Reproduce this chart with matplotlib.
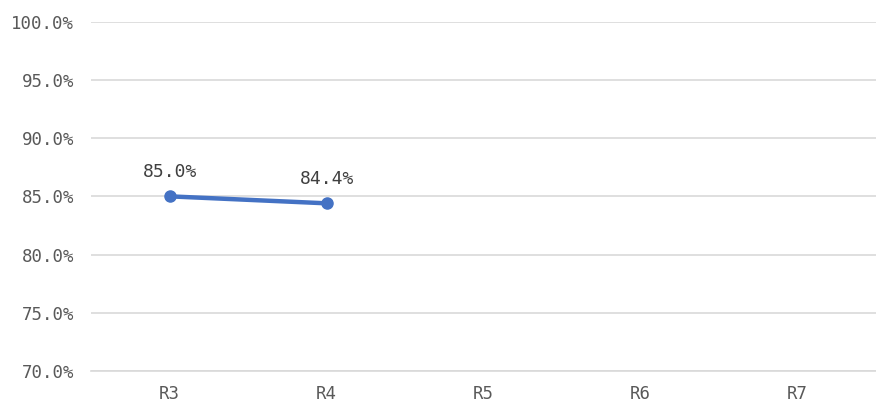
import matplotlib
matplotlib.use("Agg")
from matplotlib import pyplot as plt
from matplotlib.ticker import FuncFormatter

categories = ["R3", "R4", "R5", "R6", "R7"]
rates = [85.0, 84.4]  # only R3 and R4 have values so far
y_ticks = [70, 75, 80, 85, 90, 95, 100]

plt.rcParams["font.family"] = ["DejaVu Sans Mono", "DejaVu Sans"]

fig = plt.figure(figsize=(8.76, 4.04), dpi=100)
ax = fig.add_axes([0.104, 0.082, 0.896, 0.864])

x = list(range(len(rates)))
ax.plot(x, rates, color="#4472C4", linewidth=3.2, marker="o", markersize=8,
        solid_capstyle="round", zorder=3)
for xi, v in zip(x, rates):
    ax.annotate(f"{v:.1f}%", (xi, v), xytext=(0, 11), textcoords="offset points",
                ha="center", va="bottom", fontsize=13, color="#404040")

ax.set_xlim(-0.5, len(categories) - 0.5)
ax.set_ylim(70, 100)
ax.set_xticks(range(len(categories)))
ax.set_xticklabels(categories)
ax.set_yticks(y_ticks)
ax.yaxis.set_major_formatter(FuncFormatter(lambda v, p: f"{v:.1f}%"))

ax.grid(axis="y", color="#d9d9d9", linewidth=1.2)
ax.set_axisbelow(True)
for s in ["top", "right", "left"]:
    ax.spines[s].set_visible(False)
ax.spines["bottom"].set_color("#d9d9d9")
ax.spines["bottom"].set_linewidth(1.2)
ax.tick_params(length=0, labelsize=12.5, colors="#595959")
ax.tick_params(axis="y", pad=12)
ax.tick_params(axis="x", pad=10)

fig.savefig("out.png", dpi=100)
